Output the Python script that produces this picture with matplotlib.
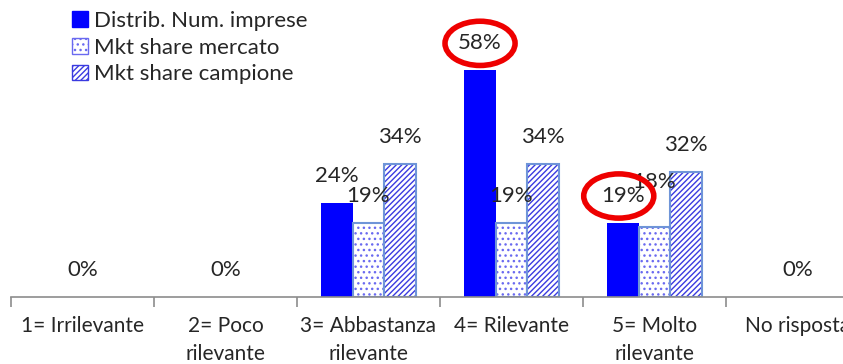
import numpy as np
import matplotlib
matplotlib.use("Agg")
from matplotlib import pyplot as plt
from matplotlib.patches import Ellipse, Patch

plt.rcParams['font.family'] = ['Lato', 'DejaVu Sans']
plt.rcParams['hatch.linewidth'] = 1.0

categories = ['1= Irrilevante', '2= Poco\nrilevante', '3= Abbastanza\nrilevante',
              '4= Rilevante', '5= Molto\nrilevante', 'No risposta']
series_names = ['Distrib. Num. imprese', 'Mkt share mercato', 'Mkt share campione']
distrib_imprese = [0, 0, 24, 58, 19, 0]
share_mercato = [0, 0, 19, 19, 18, 0]
share_campione = [0, 0, 34, 34, 32, 0]

BLUE = '#0000ff'
EDGE = '#6f95d8'
TEXT = '#262626'
GREY = '#8c8c8c'

fig = plt.figure(figsize=(8.43, 3.64), dpi=100)
ax = fig.add_axes([11 / 843, 67 / 364, 858 / 843, 274 / 364])

x = np.arange(len(categories))
w = 0.22
offsets = [-w, 0, w]
values = [distrib_imprese, share_mercato, share_campione]
hatches = [None, '...', '//////']
hatch_colors = [None, '#6a6af0', '#3a3ae0']

for vals, off, h, hc in zip(values, offsets, hatches, hatch_colors):
    # empty categories get no bar at all
    heights = np.where(np.array(vals) > 0, vals, np.nan)
    if h is None:
        ax.bar(x + off, heights, w, color=BLUE, linewidth=0)
    else:
        ax.bar(x + off, heights, w, color='white', edgecolor=hc, hatch=h, linewidth=0)
        ax.bar(x + off, heights, w, fill=False, edgecolor=EDGE, linewidth=1.5)

# data labels; one label for groups that are all zero
label_pad = 6.8
nudge = {(1, 4): 4.5}
for i in range(len(categories)):
    vs = [v[i] for v in values]
    if max(vs) == 0:
        ax.text(x[i], label_pad, '0%', ha='center', va='center', fontsize=16, color=TEXT)
        continue
    for s, (v, off) in enumerate(zip(vs, offsets)):
        ax.text(x[i] + off, v + label_pad + nudge.get((s, i), 0), f'{v}%',
                ha='center', va='center', fontsize=16, color=TEXT)

# red rings around the highlighted values
for xc, yc in [(x[3] - w, distrib_imprese[3] + label_pad), (x[4] - w - 0.03, distrib_imprese[4] + label_pad)]:
    ax.add_patch(Ellipse((xc, yc), 0.49, 11.3, fill=False, edgecolor='#ee0000',
                         linewidth=4, clip_on=False, zorder=5))

ax.set_xlim(-0.5, 5.5)
ax.set_ylim(0, 70)
ax.set_yticks([])
for side in ['left', 'right', 'top']:
    ax.spines[side].set_visible(False)
ax.spines['bottom'].set_color(GREY)
ax.spines['bottom'].set_linewidth(1.2)

ax.set_xticks(x)
ax.set_xticklabels(categories, fontsize=15, color=TEXT, linespacing=1.5, va='top')
ax.tick_params(axis='x', which='major', length=0, pad=14)
ax.set_xticks(np.arange(-0.5, 6, 1), minor=True)
ax.tick_params(axis='x', which='minor', length=7, color=GREY, width=1.2)

handles = [Patch(facecolor=BLUE, edgecolor=BLUE),
           Patch(facecolor='white', edgecolor='#6a6af0', hatch='...'),
           Patch(facecolor='white', edgecolor='#3a3ae0', hatch='//////')]
fig.legend(handles, series_names, loc='upper left', bbox_to_anchor=(52 / 843, 1.025),
           frameon=False, fontsize=16, handlelength=0.7, handleheight=0.7,
           handletextpad=0.3, labelspacing=0.3, labelcolor=TEXT)

fig.savefig('out.png', dpi=100)
